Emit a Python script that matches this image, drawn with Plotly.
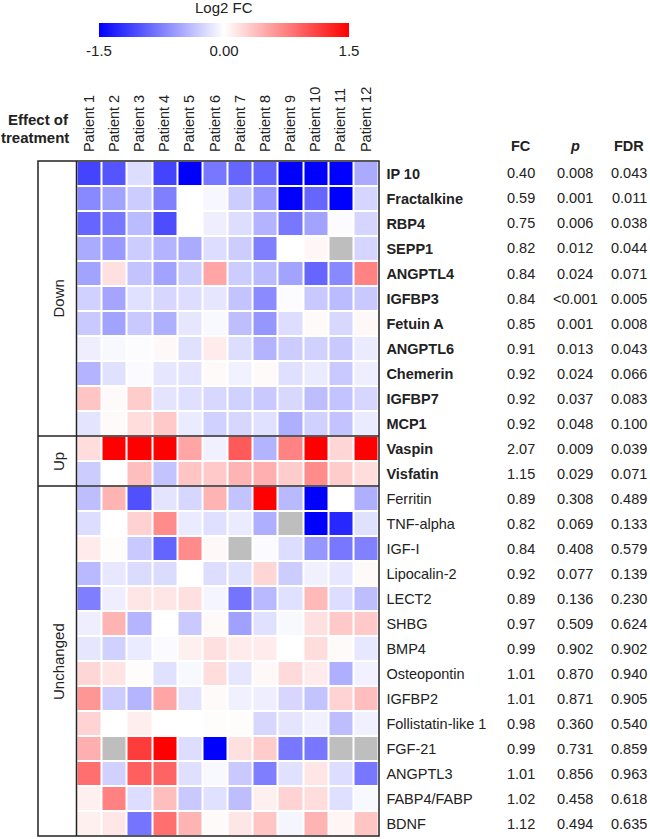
import plotly.graph_objects as go
import numpy as np

W, H = 650, 839

patients = [f"Patient {i}" for i in range(1, 13)]

markers_down = ["IP 10", "Fractalkine", "RBP4", "SEPP1", "ANGPTL4", "IGFBP3",
                "Fetuin A", "ANGPTL6", "Chemerin", "IGFBP7", "MCP1"]
markers_up = ["Vaspin", "Visfatin"]
markers_unchanged = ["Ferritin", "TNF-alpha", "IGF-I", "Lipocalin-2", "LECT2", "SHBG",
                     "BMP4", "Osteopontin", "IGFBP2", "Follistatin-like 1", "FGF-21",
                     "ANGPTL3", "FABP4/FABP", "BDNF"]

fc_vals = ["0.40", "0.59", "0.75", "0.82", "0.84", "0.84", "0.85", "0.91", "0.92", "0.92", "0.92",
           "2.07", "1.15",
           "0.89", "0.82", "0.84", "0.92", "0.89", "0.97", "0.99", "1.01", "1.01", "0.98", "0.99",
           "1.01", "1.02", "1.12"]
p_vals = ["0.008", "0.001", "0.006", "0.012", "0.024", "<0.001", "0.001", "0.013", "0.024", "0.037", "0.048",
          "0.009", "0.029",
          "0.308", "0.069", "0.408", "0.077", "0.136", "0.509", "0.902", "0.870", "0.871", "0.360", "0.731",
          "0.856", "0.458", "0.494"]
fdr_vals = ["0.043", "0.011", "0.038", "0.044", "0.071", "0.005", "0.008", "0.043", "0.066", "0.083", "0.100",
            "0.039", "0.071",
            "0.489", "0.133", "0.579", "0.139", "0.230", "0.624", "0.902", "0.940", "0.905", "0.540", "0.859",
            "0.963", "0.618", "0.635"]

N = None  # missing value (grey cell)
log2fc = [
    # Down
    [-1.10, -1.00, -0.20, -1.10, -1.50, -0.80, -0.90, -0.90, -1.50, -1.50, -1.50, -0.50],
    [-0.70, -0.55, -0.30, -0.75, 0.00, -0.05, -0.30, -0.60, -1.50, -0.90, -1.50, -0.25],
    [-0.90, -0.80, -0.40, -1.05, 0.00, -0.10, -0.20, -0.45, -0.80, -0.55, -0.02, -0.25],
    [-0.50, -0.60, -0.30, -0.45, -0.50, -0.20, -0.30, -0.75, 0.00, 0.05, N, -0.25],
    [-0.55, 0.18, -0.35, -0.55, -0.30, 0.53, -0.30, -0.40, -0.55, -0.90, -0.70, 0.73],
    [-0.27, -0.53, -0.18, -0.24, -0.20, -0.15, -0.35, -0.68, -0.02, -0.32, -0.40, -0.32],
    [-0.32, -0.55, -0.32, -0.47, -0.15, -0.04, -0.38, -0.62, -0.20, 0.03, -0.23, 0.04],
    [-0.10, -0.04, -0.02, 0.04, -0.18, 0.12, -0.20, -0.45, -0.30, -0.27, -0.32, -0.12],
    [-0.45, -0.18, -0.03, -0.15, -0.16, 0.03, -0.08, 0.03, -0.19, -0.12, -0.32, -0.10],
    [0.35, 0.03, 0.30, -0.16, -0.19, -0.23, -0.27, -0.32, -0.23, -0.38, -0.35, -0.24],
    [-0.16, 0.03, 0.20, 0.32, -0.12, -0.27, -0.24, -0.18, -0.47, -0.27, -0.35, -0.12],
    # Up
    [0.20, 1.50, 1.50, 1.50, 0.53, -0.09, 0.97, -0.45, 0.73, 1.50, 0.24, 1.50],
    [-0.30, 0.00, 0.38, -0.35, 0.35, 0.32, 0.44, 0.47, 0.30, 0.68, 0.30, 0.20],
    # Unchanged
    [-0.38, 0.44, -1.03, -0.16, -0.24, 0.44, -0.35, 1.50, -0.41, -1.50, 0.00, -0.47],
    [-0.20, 0.00, 0.27, 0.68, -0.12, -0.19, -0.12, -0.47, N, -1.50, -1.27, -0.18],
    [0.12, 0.02, -0.32, -0.91, 0.68, 0.04, N, -0.03, -0.20, -0.62, -0.80, -0.74],
    [-0.41, -0.14, -0.21, -0.21, 0.00, -0.20, -0.18, 0.24, -0.30, -0.09, -0.14, 0.03],
    [-0.76, -0.10, 0.15, 0.15, 0.18, -0.06, -0.82, -0.41, -0.18, 0.41, -0.20, -0.38],
    [-0.10, 0.44, -0.44, 0.00, -0.32, 0.03, -0.56, -0.18, -0.04, 0.18, 0.32, 0.32],
    [-0.15, -0.27, -0.12, -0.03, 0.09, 0.18, 0.12, 0.12, 0.00, 0.20, 0.03, -0.14],
    [0.24, 0.16, 0.02, -0.18, -0.04, 0.20, -0.15, 0.04, 0.22, 0.12, -0.47, -0.08],
    [0.62, -0.30, -0.44, 0.53, -0.16, 0.03, -0.09, -0.10, -0.24, -0.35, 0.26, 0.38],
    [0.26, 0.00, 0.10, 0.00, 0.00, 0.02, 0.02, -0.24, -0.16, -0.09, -0.38, -0.09],
    [0.47, N, 1.15, 1.50, -0.20, -1.50, 0.18, 0.30, -0.80, -0.80, N, N],
    [0.85, -0.27, 0.94, 0.91, -0.19, -0.04, -0.32, -0.76, -0.18, 0.15, -0.20, -0.80],
    [0.09, 0.74, -0.20, 0.38, -0.32, -0.18, -0.38, 0.09, 0.26, 0.20, -0.19, -0.04],
    [0.09, 0.14, -0.82, 0.85, 0.44, 0.03, 0.15, 0.35, -0.06, 0.44, 0.06, 0.35],
]

markers = markers_down + markers_up + markers_unchanged
n_rows = len(markers)
bold_rows = set(range(len(markers_down) + len(markers_up)))

z = np.array([[np.nan if v is None else v for v in row] for row in log2fc], dtype=float)
missing = np.where(np.isnan(z), 1.0, np.nan)

FONT = "Liberation Sans, Arial, sans-serif"
TXT = "#222"

def px(x):
    return x / W

def py(y):
    return 1 - y / H

hm_left, hm_right = 76.5, 378.5
hm_top, hm_bot = 161, 836

row_text = [f"<b>{m}</b>" if i in bold_rows else m for i, m in enumerate(markers)]

fig = go.Figure()
fig.add_trace(go.Heatmap(
    z=z, x=list(range(12)), y=list(range(n_rows)),
    zmin=-1.5, zmax=1.5,
    colorscale=[[0, "rgb(0,0,255)"], [0.5, "rgb(255,255,255)"], [1, "rgb(255,0,0)"]],
    xgap=2, ygap=2,
    hoverongaps=False,
    colorbar=dict(
        orientation="h", x=px(224), xanchor="center", y=py(23), yanchor="top",
        len=250, lenmode="pixels", thickness=14, xpad=0, ypad=0,
        outlinewidth=0, ticks="", tickvals=[-1.5, 0, 1.5], ticktext=["-1.5", "0.00", "1.5"],
        tickfont=dict(family=FONT, size=15, color=TXT),
    ),
))
fig.add_trace(go.Heatmap(
    z=missing, x=list(range(12)), y=list(range(n_rows)),
    colorscale=[[0, "rgb(190,190,190)"], [1, "rgb(190,190,190)"]],
    showscale=False, xgap=2, ygap=2, hoverongaps=False,
))

fig.update_layout(
    width=W, height=H, margin=dict(l=0, r=0, t=0, b=0),
    paper_bgcolor="white", plot_bgcolor="white",
    font=dict(family=FONT, color=TXT),
    xaxis=dict(domain=[px(hm_left), px(hm_right)], range=[-0.5, 11.5], side="top",
               tickvals=list(range(12)), ticktext=patients, tickangle=-90,
               tickfont=dict(size=14.5), showgrid=False, zeroline=False, showline=False,
               ticks="outside", ticklen=5, tickcolor="rgba(0,0,0,0)", fixedrange=True),
    yaxis=dict(domain=[py(hm_bot), py(hm_top)], range=[n_rows - 0.5, -0.5], side="right",
               tickvals=list(range(n_rows)), ticktext=row_text,
               tickfont=dict(size=14.5), showgrid=False, zeroline=False, showline=False,
               ticks="outside", ticklen=4, tickcolor="rgba(0,0,0,0)", fixedrange=True),
    showlegend=False,
)

# Frame and group separators
box_left = 38
lc = "#222"
fig.add_shape(type="rect", xref="paper", yref="paper", x0=px(box_left), x1=px(379),
              y0=py(hm_bot), y1=py(hm_top), line=dict(color=lc, width=1.5))
fig.add_shape(type="line", xref="paper", yref="paper", x0=px(76.5), x1=px(76.5),
              y0=py(hm_bot), y1=py(hm_top), line=dict(color=lc, width=1.5))
for sep in [len(markers_down), len(markers_down) + len(markers_up)]:
    fig.add_shape(type="line", xref="paper", yref="y", x0=px(box_left), x1=px(379),
                  y0=sep - 0.5, y1=sep - 0.5, line=dict(color=lc, width=1.5))

def note(x, y, text, yref="paper", xanchor="center", size=15, angle=0):
    fig.add_annotation(x=x, y=y, xref="paper", yref=yref, text=text, showarrow=False,
                       xanchor=xanchor, yanchor="middle", textangle=angle,
                       font=dict(size=size, color=TXT, family=FONT))

# Group labels
groups = [("Down", 0, len(markers_down) - 1),
          ("Up", len(markers_down), len(markers_down) + len(markers_up) - 1),
          ("Unchanged", len(markers_down) + len(markers_up), n_rows - 1)]
for name, a, b in groups:
    note(px(58), (a + b) / 2, name, yref="y", angle=-90)

# Effect of treatment
note(px(71), py(119), "<b>Effect of</b>", xanchor="right")
note(px(71), py(137), "<b>treatment</b>", xanchor="right")

# Colorbar title
note(px(224), py(8), "Log2 FC")

# Stats columns
cols = [("<b>FC</b>", fc_vals, 521), ("<b><i>p</i></b>", p_vals, 575), ("<b>FDR</b>", fdr_vals, 629)]
for head, vals, cx in cols:
    note(px(cx), py(146), head, size=14.5)
    for i, v in enumerate(vals):
        note(px(cx), i, v, yref="y", size=14.5)

fig.write_html("out.html", config={"displayModeBar": False, "staticPlot": True},
               post_script="document.body.style.margin='0';")
